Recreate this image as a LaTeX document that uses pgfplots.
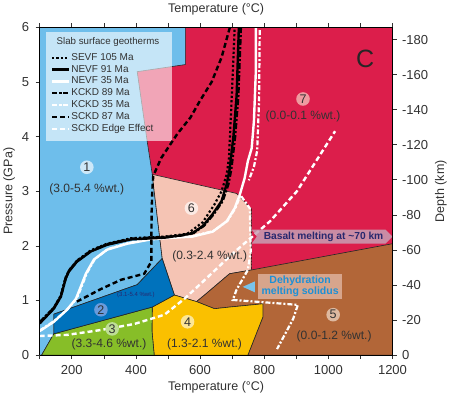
\documentclass[border=0pt]{standalone}
\usepackage{fontspec}
\setmainfont{Liberation Sans}
\usepackage{pgfplots}
\pgfplotsset{compat=1.18}
\definecolor{cred}{RGB}{220,30,75}
\definecolor{clblue}{RGB}{110,190,235}
\definecolor{cdblue}{RGB}{0,114,188}
\definecolor{cgreen}{RGB}{135,190,40}
\definecolor{cyellow}{RGB}{250,192,0}
\definecolor{cbrown}{RGB}{178,102,56}
\definecolor{cpink}{RGB}{245,196,180}
\definecolor{ctxt}{RGB}{50,50,50}
\definecolor{cnavy}{RGB}{40,40,110}
\definecolor{cdehyd}{RGB}{30,144,214}
\newcommand\legfont{\fontsize{10}{11}\selectfont}
\begin{document}
\begin{tikzpicture}
\begin{axis}[
  scale only axis, width=351bp, height=326bp,
  xmin=100, xmax=1200, ymin=0, ymax=6,
  axis x line*=bottom, axis y line*=left,
  xtick={200,400,...,1200}, minor xtick={100,300,...,1100},
  ytick={0,1,...,6},
  tick align=outside,
  major tick length=4bp, minor tick length=4bp,
  tick style={black!80, line width=0.6pt},
  axis line style={black, line width=0.7pt},
  ticklabel style={font=\fontsize{13}{13}\selectfont, text=ctxt},
  xticklabel style={yshift=-3bp},
  yticklabel style={xshift=-3bp},
  /pgf/number format/assume math mode=true,
  /pgf/number format/set thousands separator={},
  xlabel={Temperature (°C)}, ylabel={Pressure (GPa)},
  label style={font=\fontsize{12.5}{13}\selectfont, text=ctxt},
  axis on top,
  legend style={at={(0.031,0.925)}, anchor=north west, draw=none, fill=none,
    nodes={text height=7pt, text depth=2.2pt, inner sep=1pt},
    row sep=0.6pt, inner sep=0pt, text=ctxt},
  legend cell align=left,
]
% regions
\addplot[fill=cred, draw=none, forget plot] coordinates {(100,0)(1200,0)(1200,6)(100,6)} -- cycle;
\addplot[fill=clblue, draw=black!85, line width=0.6pt, forget plot] coordinates {(100,0)(106,0)(144,0.39)(144,0.75)(404,1.29)(482,1.77)(457,3.0)(451,3.31)(435,3.92)(404,5.19)(554,5.32)(554,6)(100,6)} -- cycle;
\addplot[fill=cpink, draw=black!85, line width=0.6pt, forget plot] coordinates {(451,3.31)(714,2.96)(761,2.67)(761,1.56)(692,1.49)(614,1.10)(589,0.98)(520,1.10)(482,1.77)(457,3.0)} -- cycle;
\addplot[fill=cbrown, draw=black!85, line width=0.6pt, forget plot] coordinates {(589,0.98)(614,1.10)(692,1.49)(761,1.56)(1200,2.04)(1200,0)(749,0)(796,0.70)(796,0.94)(692,0.88)(645,0.85)} -- cycle;
\addplot[fill=cyellow, draw=black!85, line width=0.6pt, forget plot] coordinates {(451,0.88)(520,1.10)(589,0.98)(645,0.85)(692,0.88)(796,0.94)(796,0.70)(749,0)(457,0)(450,0.45)} -- cycle;
\addplot[fill=cgreen, draw=black!85, line width=0.6pt, forget plot] coordinates {(106,0)(144,0.39)(451,0.88)(450,0.45)(457,0)} -- cycle;
\addplot[fill=cdblue, draw=black!85, line width=0.6pt, forget plot] coordinates {(144,0.39)(144,0.75)(404,1.29)(482,1.77)(520,1.10)(451,0.88)} -- cycle;
\addplot[draw={rgb,255:red,90;green,15;blue,35}, line width=1.6pt, dash pattern=on 1.6pt off 1.6pt, forget plot] coordinates {(761,2.67)(761,1.56)};
% legend box
\fill[white, opacity=0.6] (axis cs:119,3.92) rectangle (axis cs:511,5.91);
\node[font=\fontsize{9.7}{10}\selectfont, text=ctxt] at (axis cs:313,5.74) {Slab surface geotherms};
% legend images
\addlegendimage{black, line width=2.2pt, dash pattern=on 2.2pt off 2.2pt}
\addlegendentry{\legfont SEVF 105 Ma}
\addlegendimage{black, line width=2.4pt}
\addlegendentry{\legfont NEVF 91 Ma}
\addlegendimage{white, line width=2.4pt}
\addlegendentry{\legfont NEVF 35 Ma}
\addlegendimage{black, line width=2.2pt, dash pattern=on 5pt off 2pt on 2pt off 2pt}
\addlegendentry{\legfont KCKD 89 Ma}
\addlegendimage{white, line width=2.2pt, dash pattern=on 5pt off 2pt on 2pt off 2pt}
\addlegendentry{\legfont KCKD 35 Ma}
\addlegendimage{black, line width=2.4pt, dash pattern=on 5pt off 3pt}
\addlegendentry{\legfont SCKD 87 Ma}
\addlegendimage{white, line width=2.4pt, dash pattern=on 5pt off 3pt}
\addlegendentry{\legfont SCKD Edge Effect}
% geotherms
\addplot[white, line width=2.4pt, dash pattern=on 5pt off 3pt, forget plot] coordinates {(100,0.35)(185,0.37)(291,0.46)(395,0.57)(489,0.74)(551,1.03)(608,1.34)(700,1.85)(818,2.45)(902,3.0)(1021,4.10)};
\addplot[white, line width=2.2pt, dash pattern=on 5pt off 2pt on 2pt off 2pt, forget plot] coordinates {(100,0.45)(144,0.62)(187,0.84)(216,1.04)(231,1.26)(247,1.50)(272,1.76)(312,1.94)(375,2.05)(450,2.13)(576,2.18)(641,2.27)(686,2.46)(711,2.70)(726,2.93)(755,2.69)(758,1.90)(749,1.56)(714,1.20)(702,1.01)(771,0.98)(905,0.92)(890,0.66)(840,0.11)};
\addplot[white, line width=2.2pt, dash pattern=on 5pt off 2pt on 2pt off 2pt, forget plot] coordinates {(786,5.95)(784,4.66)(778,3.74)(768,3.45)(752,3.2)};
\addplot[white, line width=2.4pt, forget plot] coordinates {(100,0.44)(144,0.61)(185,0.83)(213,1.03)(228,1.25)(244,1.49)(269,1.75)(310,1.93)(373,2.04)(448,2.12)(489,2.14)(576,2.17)(639,2.26)(683,2.45)(708,2.69)(724,2.94)(739,3.24)(749,3.55)(761,3.79)(768,4.29)(774,5.21)(774,6.0)};
\addplot[black, line width=2.4pt, dash pattern=on 5pt off 3pt, forget plot] coordinates {(216,0.98)(291,1.21)(354,1.38)(426,1.49)(448,1.71)(448,2.02)(449,2.6)(451,3.0)(454,3.28)(479,3.61)(529,4.05)(570,4.35)(600,4.66)(636,5.0)(667,5.45)(692,5.98)(693,6.0)};
\addplot[black, line width=2.6pt, dash pattern=on 6pt off 2pt on 2pt off 2pt, forget plot] coordinates {(100,0.6)(144,0.86)(166,1.08)(181,1.41)(191,1.54)(216,1.72)(260,1.91)(310,2.03)(385,2.13)(489,2.16)(540,2.19)(580,2.24)(612,2.37)(642,2.58)(670,2.82)(688,3.13)(697,3.40)(709,4.0)(719,4.75)(727,6.0)};
\addplot[black, line width=2.4pt, forget plot] coordinates {(100,0.58)(144,0.85)(166,1.07)(181,1.40)(191,1.53)(216,1.71)(260,1.90)(310,2.02)(385,2.12)(489,2.15)(536,2.19)(576,2.23)(608,2.36)(639,2.58)(667,2.82)(683,3.13)(692,3.40)(704,4.0)(714,4.75)(721,6.0)};
\addplot[black, line width=2.2pt, dash pattern=on 2.2pt off 2.2pt, forget plot] coordinates {(100,0.6)(144,0.87)(166,1.09)(181,1.42)(191,1.55)(216,1.73)(260,1.92)(310,2.04)(385,2.14)(489,2.17)(560,2.22)(608,2.43)(645,2.76)(667,3.0)(683,3.31)(690,3.6)(699,4.75)(708,6.0)};
% region labels
\tikzset{num/.style={circle, inner sep=0pt, minimum size=13.5bp, font=\fontsize{12.5}{13}\selectfont, text=ctxt},
  lab/.style={font=\fontsize{12}{13}\selectfont, text=ctxt}}
\node[num, fill={rgb,255:red,205;green,232;blue,248}] at (axis cs:247,3.44) {1};
\node[lab] at (axis cs:247,3.04) {(3.0-5.4 \%wt.)};
\node[num, fill={rgb,255:red,105;green,155;blue,220}] at (axis cs:291,0.83) {2};
\node[font=\fontsize{6}{7}\selectfont, text=cnavy] at (axis cs:400,1.10) {(3.1-5.4 \%wt.)};
\node[num, fill={rgb,255:red,190;green,222;blue,150}] at (axis cs:326,0.48) {3};
\node[lab] at (axis cs:316,0.20) {(3.3-4.6 \%wt.)};
\node[num, fill={rgb,255:red,252;green,230;blue,150}] at (axis cs:561,0.61) {4};
\node[lab] at (axis cs:614,0.20) {(1.3-2.1 \%wt.)};
\node[num, fill={rgb,255:red,222;green,185;blue,160}] at (axis cs:1015,0.74) {5};
\node[lab] at (axis cs:1018,0.35) {(0.0-1.2 \%wt.)};
\node[num, fill={rgb,255:red,252;green,234;blue,228}] at (axis cs:573,2.69) {6};
\node[lab] at (axis cs:630,1.80) {(0.3-2.4 \%wt.)};
\node[num, fill={rgb,255:red,238;green,155;blue,160}] at (axis cs:921,4.69) {7};
\node[lab] at (axis cs:921,4.38) {(0.0-0.1 \%wt.)};
\node[font=\fontsize{25}{26}\selectfont, text=black!85] at (axis cs:1115,5.43) {C};
% annotations
\fill[fill={rgb,255:red,200;green,160;blue,180}, opacity=0.85] (axis cs:761,2.30) -- (axis cs:1178,2.30) -- (axis cs:1200,2.17) -- (axis cs:1178,2.04) -- (axis cs:761,2.04) -- (axis cs:777,2.17) -- cycle;
\node[font=\bfseries\fontsize{10.2}{11}\selectfont, text=cnavy] at (axis cs:985,2.17) {Basalt melting at \textasciitilde70 km};
\fill[fill={rgb,255:red,215;green,165;blue,140}] (axis cs:780,1.49) rectangle (axis cs:1043,1.03);
\node[font=\bfseries\fontsize{10.5}{11.5}\selectfont, text=cdehyd, align=center] at (axis cs:912,1.26) {Dehydration\\melting solidus};
\fill[fill={rgb,255:red,120;green,195;blue,235}] (axis cs:733,1.25) -- (axis cs:771,1.35) -- (axis cs:771,1.15) -- cycle;
\end{axis}
\begin{axis}[
  scale only axis, width=351bp, height=326bp,
  xmin=100, xmax=1200, ymin=-186.9, ymax=0, y dir=reverse,
  axis x line*=top, axis y line*=right,
  xtick={100,200,...,1200}, xticklabels={},
  ytick={-180,-160,...,0}, yticklabels={-180,-160,-140,-120,-100,-80,-60,-40,-20,0},
  tick align=outside,
  major tick length=4bp,
  tick style={black!80, line width=0.6pt},
  axis line style={black, line width=0.7pt},
  ticklabel style={font=\fontsize{13}{13}\selectfont, text=ctxt},
  yticklabel style={xshift=2bp},
  xlabel={Temperature (°C)}, ylabel={Depth (km)},
  xlabel style={yshift=-2bp},
  label style={font=\fontsize{12.5}{13}\selectfont, text=ctxt},
]
\end{axis}
\end{tikzpicture}
\end{document}
